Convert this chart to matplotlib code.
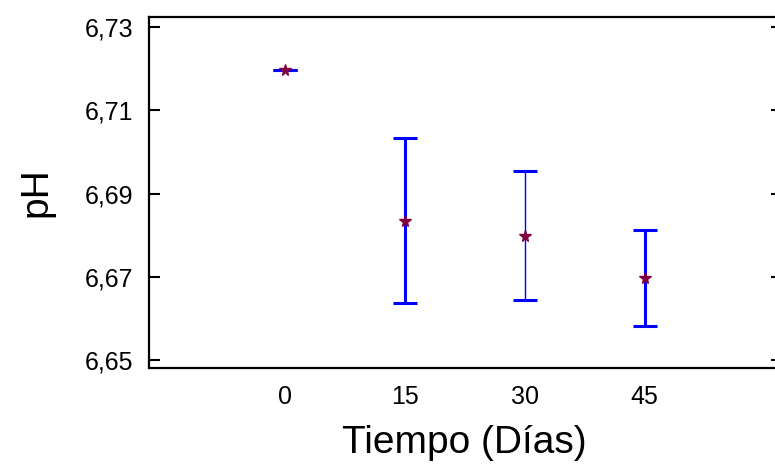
import matplotlib.pyplot as plt

# datos
dias = [0, 15, 30, 45]
ph_medio = [6.7197, 6.6835, 6.6799, 6.6697]
ph_error = [0.0, 0.0198, 0.0154, 0.0115]
etiquetas_x = ['0', '15', '30', '45']
ticks_y = [6.65, 6.67, 6.69, 6.71, 6.73]

plt.rcParams['font.family'] = ['Liberation Sans', 'DejaVu Sans']

fig = plt.figure(figsize=(7.75, 4.65), dpi=100)
ax = fig.add_axes([149 / 775, (465 - 368) / 465, (779 - 149) / 775, (368 - 17) / 465])

grosor = [1.2, 2.2, 1.0, 2.2]
for x, y, e, lw in zip(dias, ph_medio, ph_error, grosor):
    ax.errorbar(x, y, yerr=e, fmt='none', ecolor='#0000ff', elinewidth=lw,
                capsize=8.5, capthick=2.2)
ax.plot(dias, ph_medio, linestyle='none', marker='*', color='#800040',
        markersize=8.5, zorder=3)

ax.set_xlim(-17, 61.8)
ax.set_ylim(6.6481, 6.7324)
ax.set_xticks(dias)
ax.set_xticklabels(etiquetas_x)
ax.set_yticks(ticks_y)
ax.set_yticklabels([f'{v:.2f}'.replace('.', ',') for v in ticks_y])

ax.tick_params(axis='x', length=0, pad=12, labelsize=18)
ax.tick_params(axis='y', direction='in', length=8, width=1.5, pad=11,
               labelsize=18)
ax.tick_params(axis='y', which='major', right=True)
for t in ax.yaxis.get_major_ticks():
    t.tick2line.set_markersize(6)
for s in ax.spines.values():
    s.set_linewidth(1.6)

ax.set_xlabel('Tiempo (Días)', fontsize=28, labelpad=12)
ax.set_ylabel('pH', fontsize=28, labelpad=22)

fig.savefig('out.png', dpi=100)
